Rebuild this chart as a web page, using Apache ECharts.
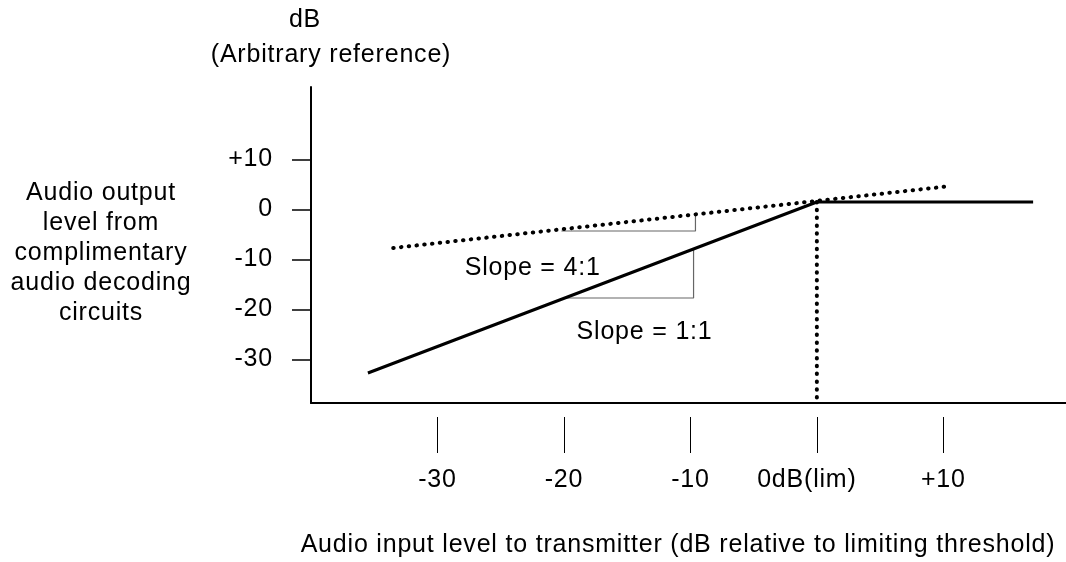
<!DOCTYPE html>
<html><head><meta charset="utf-8">
<script src="https://cdn.jsdelivr.net/npm/echarts@6/dist/echarts.min.js"></script>
<style>html,body{margin:0;padding:0;background:#fff}#c{width:1066px;height:562px}</style>
</head><body><div id="c"></div>
<script>
// ---- data ----
const xTicks = [-30, -20, -10, 0, 10];
const xTickLabels = ['-30', '-20', '-10', '0dB(lim)', '+10'];
const yTicks = [-30, -20, -10, 0, 10];
const yTickLabels = ['-30', '-20', '-10', '0', '+10'];
const outputLevel = [[-35.5, -32.7], [0, 1.5], [17.1, 1.5]];          // solid transfer curve
const compressedLevel = [[-33.5, -7.7], [10.6, 4.7]];                  // dotted 4:1 line
const thresholdMarker = [[0, 1.5], [0, -38.7]];                        // dotted drop at 0 dB(lim)
const slope41Guide = [[-20.2, -4.3], [-9.6, -4.3], [-9.6, -1.1]];
const slope11Guide = [[-19.8, -17.7], [-9.75, -17.7], [-9.75, -8.0]];
const annotations = [['Slope = 4:1', -27.85, -11.7], ['Slope = 1:1', -19.0, -24.5]];
const xTitle = 'Audio input level to transmitter (dB relative to limiting threshold)';
const yTitleTop = ['dB', '(Arbitrary reference)'];
const yTitleLeft = ['Audio output', 'level from', 'complimentary', 'audio decoding', 'circuits'];

// slightly tracked lettering, as in the reference typeface
const _gc = HTMLCanvasElement.prototype.getContext;
HTMLCanvasElement.prototype.getContext = function (t, o) {
  const c = _gc.call(this, t, o);
  if (t === '2d' && c && 'letterSpacing' in c) c.letterSpacing = '0.8px';
  return c;
};

const FONT = '"Liberation Sans", Arial, sans-serif';
const FS = 25;
const X_MIN = -40, X_MAX = 19.7, Y_MIN = -38.7, Y_MAX = 24.5;

const chart = echarts.init(document.getElementById('c'), null, {renderer: 'canvas'});
const dots = {color: '#000', width: 4, type: [0.5, 7.3], cap: 'round'};
const guide = {color: '#666', width: 1.2};
const txt = (id, text, x, y, align, valign, extra) => ({
  type: 'text', id: id, z: 10,
  style: Object.assign({text: text, x: x, y: y, textAlign: align, textVerticalAlign: valign,
    fontSize: FS, fontFamily: FONT, fill: '#000'}, extra || {})
});

chart.setOption({
  animation: false,
  backgroundColor: '#fff',
  grid: {left: 311, top: 87, right: 0, bottom: 159},
  xAxis: [{
    type: 'value', min: X_MIN, max: X_MAX,
    axisLine: {show: true, onZero: false, lineStyle: {color: '#000', width: 2}},
    axisTick: {show: false}, axisLabel: {show: false}, splitLine: {show: false}
  }, {
    type: 'value', min: X_MIN, max: X_MAX, position: 'bottom', offset: 14,
    axisLine: {show: false, onZero: false},
    axisTick: {show: true, customValues: xTicks, length: 36, lineStyle: {color: '#000', width: 1}},
    axisLabel: {
      customValues: xTicks, margin: 50, color: '#000', fontSize: FS, fontFamily: FONT,
      formatter: v => {
        const l = xTickLabels[xTicks.indexOf(v)];
        return v === 0 ? '{lim|' + l + '}' : l;
      },
      rich: {lim: {fontSize: FS, fontFamily: FONT, color: '#000', padding: [0, 20, 0, 0]}}
    },
    splitLine: {show: false}
  }],
  yAxis: {
    type: 'value', min: Y_MIN, max: Y_MAX,
    axisLine: {show: true, onZero: false, lineStyle: {color: '#000', width: 2}},
    axisTick: {show: true, customValues: yTicks, length: 19, lineStyle: {color: '#000', width: 1.5}},
    axisLabel: {
      customValues: yTicks, margin: 38, color: '#000', fontSize: FS, fontFamily: FONT,
      formatter: v => yTickLabels[yTicks.indexOf(v)]
    },
    splitLine: {show: false}
  },
  series: [
    {type: 'line', data: slope41Guide, showSymbol: false, lineStyle: guide, z: 2},
    {type: 'line', data: slope11Guide, showSymbol: false, lineStyle: guide, z: 2},
    {type: 'line', data: compressedLevel, showSymbol: false, lineStyle: dots, z: 3},
    {type: 'line', data: thresholdMarker, showSymbol: false, lineStyle: dots, z: 3},
    {type: 'line', data: outputLevel, showSymbol: false, lineStyle: {color: '#000', width: 3}, z: 4}
  ],
  graphic: [
    txt('t1', yTitleTop[0], 305, 20, 'center', 'middle'),
    txt('t2', yTitleTop[1], 331, 55, 'center', 'middle'),
    txt('t3', yTitleLeft.join('\n'), 101, 178, 'center', 'top', {lineHeight: 30}),
    txt('t4', xTitle, 678, 545, 'center', 'middle')
  ]
});

// slope annotations, anchored in data coordinates
chart.setOption({
  graphic: annotations.map((a, i) => {
    const p = chart.convertToPixel({xAxisIndex: 0, yAxisIndex: 0}, [a[1], a[2]]);
    return txt('a' + i, a[0], p[0], p[1], 'left', 'middle');
  })
});
</script>
</body></html>
